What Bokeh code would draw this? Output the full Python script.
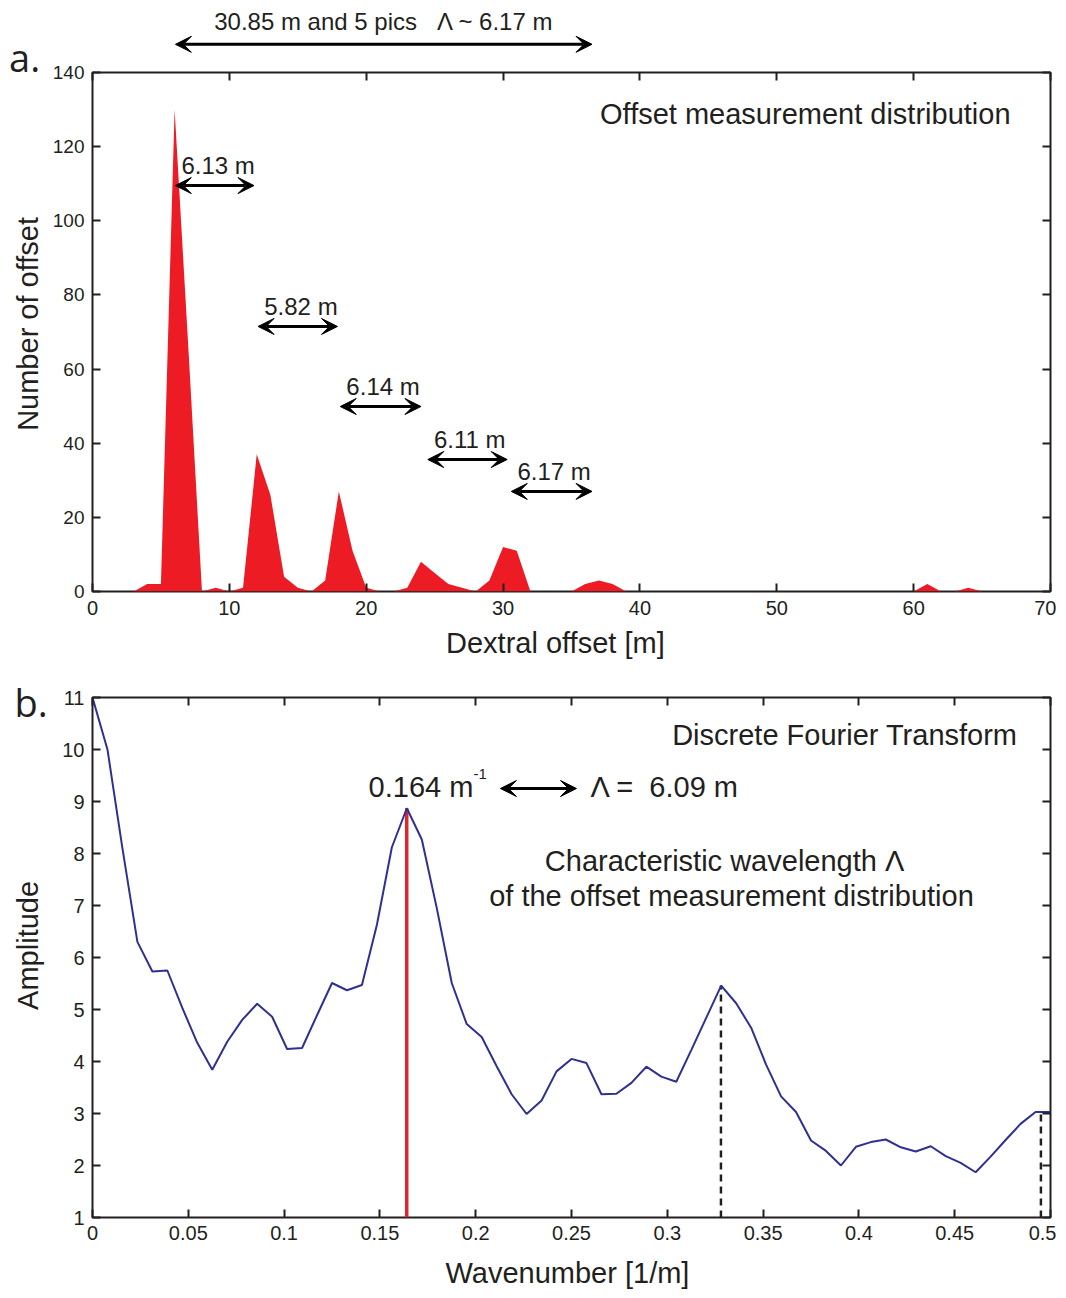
from bokeh.plotting import figure
from bokeh.models import (Label, Arrow, VeeHead, LinearAxis, FixedTicker,
                          CustomJSTickFormatter, Range1d)
from bokeh.layouts import column
from bokeh.embed import file_html
from bokeh.resources import INLINE

# ---------------- data: panel a (offset histogram) ----------------
offset_m = list(range(0, 71))
offset_count = [0, 0, 0, 0, 2, 2, 130, 66, 0, 1,
                0, 1, 37, 26, 4, 1, 0, 3, 27, 11,
                1, 0, 0, 1, 8, 5, 2, 1, 0, 3,
                12, 11, 0, 0, 0, 0, 2, 3, 2, 0,
                0, 0, 0, 0, 0, 0, 0, 0, 0, 0,
                0, 0, 0, 0, 0, 0, 0, 0, 0, 0,
                0, 2, 0, 0, 1, 0, 0, 0, 0, 0,
                0]
a_xticks = [0, 10, 20, 30, 40, 50, 60, 70]
a_yticks = [0, 20, 40, 60, 80, 100, 120, 140]
# spacing annotations between successive peaks
spacing_start = [6.05, 12.1, 18.1, 24.5, 30.6]
spacing_end = [11.8, 17.9, 24.0, 30.3, 36.5]
spacing_level = [109.5, 71.5, 49.9, 35.6, 27.0]
spacing_label = ["6.13 m", "5.82 m", "6.14 m", "6.11 m", "6.17 m"]

# ---------------- data: panel b (DFT) ----------------
wavenumber = [i / 128 for i in range(65)]
amplitude = [11.0, 10.0, 8.1, 6.3, 5.73, 5.75, 5.03, 4.36, 3.84, 4.38,
             4.8, 5.11, 4.86, 4.24, 4.26, 4.89, 5.51, 5.37, 5.47, 6.63,
             8.12, 8.87, 8.27, 6.95, 5.51, 4.72, 4.47, 3.91, 3.37, 2.99,
             3.25, 3.81, 4.05, 3.97, 3.37, 3.38, 3.59, 3.90, 3.71, 3.61,
             4.22, 4.84, 5.46, 5.12, 4.65, 3.94, 3.33, 3.03, 2.48, 2.28,
             2.0, 2.36, 2.45, 2.5, 2.35, 2.27, 2.37, 2.18, 2.05, 1.87,
             2.17, 2.49, 2.80, 3.03, 3.03]
peak_k = 0.164
peak_amp = 8.87
harmonic_k = [0.328, 0.495]
harmonic_amp = [5.46, 3.03]
b_xticks = [0, 0.05, 0.1, 0.15, 0.2, 0.25, 0.3, 0.35, 0.4, 0.45, 0.5]
b_yticks = [1, 2, 3, 4, 5, 6, 7, 8, 9, 10, 11]

FONT = "Liberation Sans"
TXT = "#231f20"
NB = "\u00a0"

# ---------------- layout constants (pixels) ----------------
LEFT, FRAME_W, RIGHT = 84, 958, 6
TOTAL_W = LEFT + FRAME_W + RIGHT
A_TOP, A_H, A_BOT = 65, 519, 82
B_TOP, B_H, B_BOT = 24, 520, 72
OV1_H, OV2_H = 80, 60

BLANK = CustomJSTickFormatter(code="return '';")


def style_axis(ax, fs, labels=True):
    ax.axis_line_color = None
    ax.major_tick_in = 8
    ax.major_tick_out = 0
    ax.major_tick_line_color = TXT
    ax.major_tick_line_width = 2
    ax.minor_tick_line_color = None
    ax.major_label_text_font = FONT
    ax.major_label_text_color = TXT
    ax.major_label_text_font_size = fs
    ax.axis_label_text_font = FONT
    ax.axis_label_text_font_style = "normal"
    ax.axis_label_text_font_size = "29px"
    ax.axis_label_text_color = TXT
    if not labels:
        ax.formatter = BLANK
        ax.major_label_standoff = 0


def heads():
    return dict(start=VeeHead(size=16, fill_color="black", line_color="black", line_width=1),
                end=VeeHead(size=16, fill_color="black", line_color="black", line_width=1))


def overlay(xr, yr, h):
    o = figure(width=TOTAL_W, height=h, x_range=xr, y_range=yr,
               x_axis_type=None, y_axis_type=None, title=None,
               output_backend="svg", toolbar_location=None,
               min_border=0, margin=(0, 0, -h, 0), frame_align=False)
    o.outline_line_color = None
    o.grid.visible = False
    o.border_fill_color = None
    o.background_fill_color = None
    return o


# ================= panel a =================
a_xr = Range1d(0, 70)
a_yr = Range1d(0, 140)
p1 = figure(frame_width=FRAME_W, frame_height=A_H, output_backend="svg",
            toolbar_location=None, x_range=a_xr, y_range=a_yr, title=None,
            min_border_left=LEFT, min_border_top=A_TOP, min_border_bottom=A_BOT,
            min_border_right=RIGHT, frame_align=False)
p1.grid.visible = False
p1.outline_line_color = TXT
p1.outline_line_width = 2
p1.outline_line_alpha = 1
p1.border_fill_color = None
p1.background_fill_color = "white"

p1.varea(x=offset_m, y1=0, y2=offset_count, fill_color="#ed1c24")

p1.xaxis.ticker = FixedTicker(ticks=a_xticks)
p1.yaxis.ticker = FixedTicker(ticks=a_yticks)
p1.xaxis.axis_label = "Dextral offset [m]" + NB * 4
p1.yaxis.axis_label = NB * 2 + "Number of offset"
style_axis(p1.xaxis[0], "20px")
style_axis(p1.yaxis[0], "19px")
p1.xaxis.major_label_standoff = 9
p1.xaxis.axis_label_standoff = 9
p1.yaxis.major_label_standoff = 8
p1.yaxis.axis_label_standoff = 6
ta = LinearAxis(ticker=FixedTicker(ticks=a_xticks))
style_axis(ta, "20px", labels=False)
p1.add_layout(ta, "above")
ra = LinearAxis(ticker=FixedTicker(ticks=a_yticks))
style_axis(ra, "20px", labels=False)
p1.add_layout(ra, "right")

for xs, xe, yl, lab in zip(spacing_start, spacing_end, spacing_level, spacing_label):
    p1.add_layout(Arrow(x_start=xs, y_start=yl, x_end=xe, y_end=yl,
                        line_width=3, line_color="black", **heads()))
    p1.add_layout(Label(x=xs + 0.45, y=yl + 5.3, text=lab, text_font=FONT,
                        text_font_size="24px", text_color=TXT,
                        text_align="left", text_baseline="middle"))

p1.add_layout(Label(x=67.08, y=128.9, text="Offset measurement distribution",
                    text_font=FONT, text_font_size="29px", text_color=TXT,
                    text_align="right", text_baseline="middle"))

# overlay above panel a (same data coordinates, extended outside the frame)
ppx_a = FRAME_W / 70.0
ppy_a = A_H / 140.0
ov1 = overlay(Range1d(-LEFT / ppx_a, 70 + RIGHT / ppx_a),
              Range1d(140 - (OV1_H - A_TOP) / ppy_a, 140 + A_TOP / ppy_a), OV1_H)
ov1.add_layout(Arrow(x_start=6.06, y_start=147.6, x_end=36.5, y_end=147.6,
                     line_width=3, line_color="black", **heads()))
ov1.add_layout(Label(x=21.3, y=153.8,
                     text="30.85 m and 5 pics" + NB * 2 + " \u039b ~ 6.17 m",
                     text_font=FONT, text_font_size="24px", text_color=TXT,
                     text_align="center", text_baseline="middle"))
ov1.add_layout(Label(x=-6.1, y=144.2, text="a.", text_font="Open Sans",
                     text_font_size="38px", text_color=TXT,
                     text_align="left", text_baseline="middle"))

# ================= panel b =================
b_xr = Range1d(0, 0.5)
b_yr = Range1d(1, 11)
p2 = figure(frame_width=FRAME_W, frame_height=B_H, output_backend="svg",
            toolbar_location=None, x_range=b_xr, y_range=b_yr, title=None,
            min_border_left=LEFT, min_border_top=B_TOP, min_border_bottom=B_BOT,
            min_border_right=RIGHT, frame_align=False)
p2.grid.visible = False
p2.outline_line_color = TXT
p2.outline_line_width = 2
p2.outline_line_alpha = 1
p2.border_fill_color = None
p2.background_fill_color = "white"

p2.segment(x0=[peak_k], y0=[1], x1=[peak_k], y1=[peak_amp],
           line_color="#e0262d", line_width=3.5)
p2.segment(x0=harmonic_k, y0=[1, 1], x1=harmonic_k, y1=harmonic_amp,
           line_color=TXT, line_width=2.5, line_dash="7 5")
p2.line(wavenumber, amplitude, line_color="#2e3192", line_width=2)

fmt = CustomJSTickFormatter(code="return String(Math.round(tick*100)/100);")
p2.xaxis.ticker = FixedTicker(ticks=b_xticks)
p2.yaxis.ticker = FixedTicker(ticks=b_yticks)
p2.xaxis.axis_label = "Wavenumber [1/m]" + NB
p2.yaxis.axis_label = NB * 3 + "Amplitude"
style_axis(p2.xaxis[0], "20px")
style_axis(p2.yaxis[0], "20px")
p2.xaxis.formatter = fmt
p2.xaxis.major_label_standoff = 8
p2.xaxis.axis_label_standoff = 14
p2.yaxis.major_label_standoff = 8
p2.yaxis.axis_label_standoff = 15
tb = LinearAxis(ticker=FixedTicker(ticks=b_xticks))
style_axis(tb, "20px", labels=False)
p2.add_layout(tb, "above")
rb = LinearAxis(ticker=FixedTicker(ticks=b_yticks))
style_axis(rb, "20px", labels=False)
p2.add_layout(rb, "right")

p2.add_layout(Label(x=0.4828, y=10.27, text="Discrete Fourier Transform",
                    text_font=FONT, text_font_size="29px", text_color=TXT,
                    text_align="right", text_baseline="middle"))
p2.add_layout(Label(x=0.1441, y=9.27, text="0.164 m", text_font=FONT,
                    text_font_size="29px", text_color=TXT,
                    text_align="left", text_baseline="middle"))
p2.add_layout(Label(x=0.1988, y=9.52, text="-1", text_font=FONT,
                    text_font_size="15px", text_color=TXT,
                    text_align="left", text_baseline="middle"))
p2.add_layout(Arrow(x_start=0.2129, y_start=9.25, x_end=0.2526, y_end=9.25,
                    line_width=3, line_color="black", **heads()))
p2.add_layout(Label(x=0.2599, y=9.27, text="\u039b =" + NB + " 6.09 m", text_font=FONT,
                    text_font_size="29px", text_color=TXT,
                    text_align="left", text_baseline="middle"))
p2.add_layout(Label(x=0.3299, y=7.85, text="Characteristic wavelength \u039b",
                    text_font=FONT, text_font_size="29px", text_color=TXT,
                    text_align="center", text_baseline="middle"))
p2.add_layout(Label(x=0.3335, y=7.19, text="of the offset measurement distribution",
                    text_font=FONT, text_font_size="29px", text_color=TXT,
                    text_align="center", text_baseline="middle"))

ppx_b = FRAME_W / 0.5
ppy_b = B_H / 10.0
ov2 = overlay(Range1d(-LEFT / ppx_b, 0.5 + RIGHT / ppx_b),
              Range1d(11 - (OV2_H - B_TOP) / ppy_b, 11 + B_TOP / ppy_b), OV2_H)
ov2.add_layout(Label(x=-0.0407, y=10.917, text="b.", text_font="Open Sans",
                     text_font_size="38px", text_color=TXT,
                     text_align="left", text_baseline="middle"))

layout = column(ov1, p1, ov2, p2, spacing=0, margin=(7, 0, 0, 8))
open("out.html", "w").write(file_html(layout, INLINE))
